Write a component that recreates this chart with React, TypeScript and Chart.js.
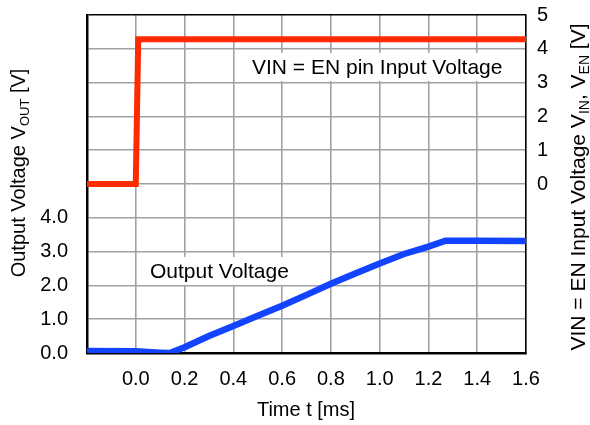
import React, { useEffect, useRef } from 'react';
import { Chart, registerables } from 'chart.js';

Chart.register(...registerables);

const FONT = '"Liberation Sans", Arial, Helvetica, sans-serif';

// VIN = EN pin input voltage (right axis, V) vs time (ms)
const vinTime = [-0.2, 0.0, 0.01, 1.6];
const vinVolt = [0.0, 0.0, 4.28, 4.28];

// Output voltage (left axis, V) vs time (ms)
const voutTime = [-0.2, 0.0, 0.1, 0.14, 0.2, 0.3, 0.4, 0.5, 0.6, 0.7, 0.8, 0.9, 1.0, 1.1, 1.2, 1.27, 1.4, 1.6];
const voutVolt = [0.06, 0.05, 0.01, 0.0, 0.17, 0.5, 0.8, 1.1, 1.4, 1.72, 2.05, 2.35, 2.65, 2.93, 3.15, 3.32, 3.32, 3.31];

const xTickValues = [-0.2, 0.0, 0.2, 0.4, 0.6, 0.8, 1.0, 1.2, 1.4, 1.6];
const leftTickLabels = ['0.0', '1.0', '2.0', '3.0', '4.0'];
const rightTickLabels = ['0', '1', '2', '3', '4', '5'];

const annVin = { text: 'VIN = EN pin Input Voltage', x: 0.99, y: 8.46 };
const annVout = { text: 'Output Voltage', x: 0.343, y: 2.43 };

const GRID = '#9ea2a7';

type Seg = { t: string; size: number; dy?: number };

function drawRich(ctx: CanvasRenderingContext2D, segs: Seg[], cx: number, cy: number, rotate: boolean) {
  ctx.save();
  ctx.translate(cx, cy);
  if (rotate) ctx.rotate(-Math.PI / 2);
  let total = 0;
  for (const s of segs) {
    ctx.font = `${s.size}px ${FONT}`;
    total += ctx.measureText(s.t).width;
  }
  let x = -total / 2;
  ctx.textAlign = 'left';
  ctx.textBaseline = 'alphabetic';
  ctx.fillStyle = '#000';
  for (const s of segs) {
    ctx.font = `${s.size}px ${FONT}`;
    ctx.fillText(s.t, x, 7 + (s.dy || 0));
    x += ctx.measureText(s.t).width;
  }
  ctx.restore();
}

const customPlugin = {
  id: 'customText',
  beforeDatasetsDraw(chart: any) {
    const ctx: CanvasRenderingContext2D = chart.ctx;
    const xs = chart.scales.x;
    const ys = chart.scales.y;
    ctx.save();
    ctx.font = `21px ${FONT}`;
    ctx.textAlign = 'center';
    ctx.textBaseline = 'middle';
    for (const a of [annVin, annVout]) {
      const px = xs.getPixelForValue(a.x);
      const py = ys.getPixelForValue(a.y);
      const w = ctx.measureText(a.text).width;
      ctx.fillStyle = '#fff';
      ctx.fillRect(px - w / 2 - 3, py - 14, w + 6, 28);
      ctx.fillStyle = '#000';
      ctx.fillText(a.text, px, py + 1);
    }
    ctx.restore();
  },
  afterDraw(chart: any) {
    const ctx: CanvasRenderingContext2D = chart.ctx;
    drawRich(ctx, [
      { t: 'Output Voltage V', size: 20 },
      { t: 'OUT', size: 13, dy: 4 },
      { t: ' [V]', size: 20 },
    ], 18, 173, true);
    drawRich(ctx, [
      { t: 'VIN = EN Input Voltage V', size: 21 },
      { t: 'IN', size: 14, dy: 4 },
      { t: ', V', size: 21 },
      { t: 'EN', size: 14, dy: 4 },
      { t: ' [V]', size: 21 },
    ], 578, 187, true);
    drawRich(ctx, [{ t: 'Time t [ms]', size: 20 }], 306, 409, false);
  },
};

const zeroPad = (s: any) => {
  s.paddingTop = 0;
  s.paddingBottom = 0;
  s.paddingLeft = 0;
  s.paddingRight = 0;
};

export default function App() {
  const ref = useRef<HTMLCanvasElement | null>(null);
  useEffect(() => {
    document.body.style.margin = '0';
    if (!ref.current) return;
    const chart = new Chart(ref.current, {
      type: 'line',
      data: {
        datasets: [
          {
            label: 'VIN',
            data: vinTime.map((t, i) => ({ x: t, y: vinVolt[i] })),
            borderColor: '#ff2a00',
            borderWidth: 6,
            pointRadius: 0,
            tension: 0,
            yAxisID: 'y2',
          },
          {
            label: 'VOUT',
            data: voutTime.map((t, i) => ({ x: t, y: voutVolt[i] })),
            borderColor: '#1244ff',
            borderWidth: 6.5,
            pointRadius: 0,
            tension: 0,
            yAxisID: 'y',
          },
        ],
      },
      options: {
        responsive: false,
        animation: false,
        layout: { padding: { top: 15, left: 0, right: 0, bottom: 0 } },
        plugins: { legend: { display: false }, tooltip: { enabled: false } },
        scales: {
          x: {
            type: 'linear',
            min: -0.2,
            max: 1.6,
            afterBuildTicks: (s: any) => {
              s.ticks = xTickValues.map((v) => ({ value: v }));
            },
            afterFit: (s: any) => {
              s.height = 72;
              zeroPad(s);
            },
            ticks: {
              autoSkip: false,
              maxRotation: 0,
              padding: 14,
              color: '#000',
              font: { size: 20, family: FONT },
              callback: (v: any) => {
                const n = Number(v);
                if (n < -0.1) return '';
                return Math.abs(n) < 1e-9 ? '0.0' : n.toFixed(1);
              },
            },
            grid: { color: GRID, lineWidth: 1.6, drawTicks: false },
            border: { color: '#000', width: 2.5 },
          },
          y: {
            type: 'linear',
            position: 'left',
            min: 0,
            max: 10,
            afterFit: (s: any) => {
              s.width = 87;
              zeroPad(s);
            },
            ticks: {
              stepSize: 1,
              padding: 19,
              color: '#000',
              font: { size: 20, family: FONT },
              callback: (v: any) => {
                const n = Math.round(Number(v));
                return n >= 0 && n < leftTickLabels.length ? leftTickLabels[n] : '';
              },
            },
            grid: {
              color: (c: any) => (c.tick && c.tick.value === 10 ? '#000' : GRID),
              lineWidth: 1.6,
              drawTicks: false,
            },
            border: { color: '#000', width: 2.5 },
          },
          y2: {
            type: 'linear',
            position: 'right',
            min: -5,
            max: 5,
            afterFit: (s: any) => {
              s.width = 64;
              zeroPad(s);
            },
            ticks: {
              stepSize: 1,
              padding: 11,
              color: '#000',
              font: { size: 20, family: FONT },
              callback: (v: any) => {
                const n = Math.round(Number(v));
                return n >= 0 && n < rightTickLabels.length ? rightTickLabels[n] : '';
              },
            },
            grid: { drawOnChartArea: false, drawTicks: false },
            border: { color: '#000', width: 1.5 },
          },
        },
      },
      plugins: [customPlugin],
    });
    return () => chart.destroy();
  }, []);
  return (
    <div style={{ position: 'absolute', left: 0, top: 0, width: 590, height: 425 }}>
      <canvas ref={ref} width={590} height={425} style={{ display: 'block' }} />
    </div>
  );
}
